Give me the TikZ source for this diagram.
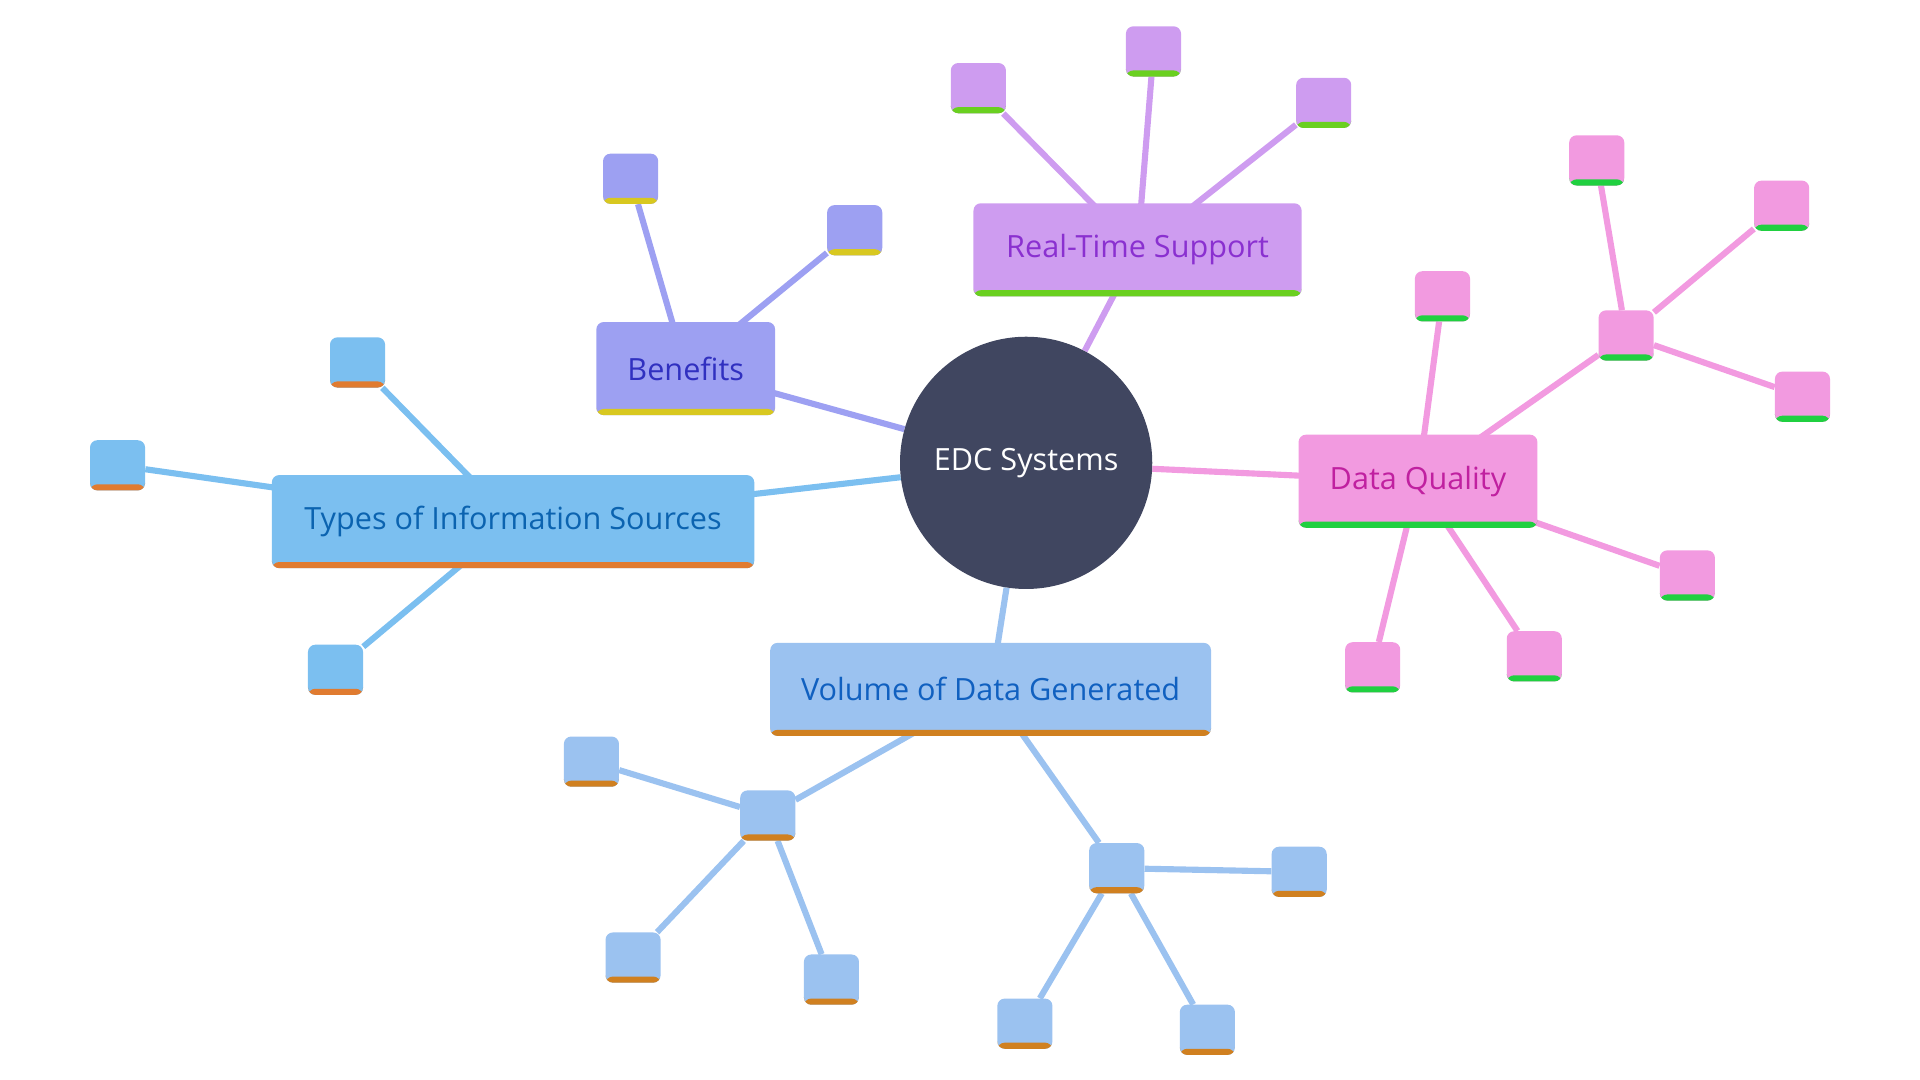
\documentclass[tikz,border=0pt]{standalone}
\usepackage{fontspec}
\setmainfont{Open Sans}
\usetikzlibrary{backgrounds}
\definecolor{hub}{HTML}{404660}
\definecolor{tyF}{HTML}{7BBFF0}\definecolor{tyT}{HTML}{0B63B0}\definecolor{tyB}{HTML}{E07B30}
\definecolor{beF}{HTML}{9DA0F2}\definecolor{beT}{HTML}{3030C0}\definecolor{beB}{HTML}{D8C820}
\definecolor{rtF}{HTML}{CE9CF0}\definecolor{rtT}{HTML}{8A30D0}\definecolor{rtB}{HTML}{6AD020}
\definecolor{dqF}{HTML}{F29AE0}\definecolor{dqT}{HTML}{C020A0}\definecolor{dqB}{HTML}{20D040}
\definecolor{voF}{HTML}{9BC2F0}\definecolor{voT}{HTML}{1060C0}\definecolor{voB}{HTML}{D08020}
\tikzset{
  box/.style 2 args={rectangle, rounded corners=6pt, fill=#1, inner sep=0pt,
    path picture={\fill[#2] (path picture bounding box.south west) rectangle ([yshift=5pt]path picture bounding box.south east);}},
  topic/.style={minimum height=76pt, font=\fontsize{25}{25}\selectfont},
  leaf/.style={minimum width=45pt, minimum height=41pt},
  link/.style={line width=5pt, draw=#1},
}
\begin{document}
\begin{tikzpicture}[x=1pt,y=-1pt]
\useasboundingbox (0,0) rectangle (1568,882);

\node [circle, fill=hub, minimum size=206pt, text=white, font=\fontsize{25}{25}\selectfont] (EDC) at (838,378) {EDC Systems};

% main topics
\node [box={tyF}{tyB}, topic, minimum width=394pt, text=tyT] (TY) at (419,426) {Types of Information Sources};
\node [box={beF}{beB}, topic, minimum width=146pt, text=beT] (BE) at (560,301) {Benefits};
\node [box={rtF}{rtB}, topic, minimum width=268pt, text=rtT] (RT) at (929,204) {Real-Time Support};
\node [box={dqF}{dqB}, topic, minimum width=195pt, text=dqT] (DQ) at (1158,393) {Data Quality};
\node [box={voF}{voB}, topic, minimum width=360pt, text=voT] (VO) at (809,563) {Volume of Data Generated};

% leaves
\node [box={tyF}{tyB}, leaf] (TY1) at (96,380) {};
\node [box={tyF}{tyB}, leaf] (TY2) at (292,296) {};
\node [box={tyF}{tyB}, leaf] (TY3) at (274,547) {};

\node [box={beF}{beB}, leaf] (BE1) at (515,146) {};
\node [box={beF}{beB}, leaf] (BE2) at (698,188) {};

\node [box={rtF}{rtB}, leaf] (RT1) at (799,72) {};
\node [box={rtF}{rtB}, leaf] (RT2) at (942,42) {};
\node [box={rtF}{rtB}, leaf] (RT3) at (1081,84) {};

\node [box={dqF}{dqB}, leaf] (DQ1) at (1178,242) {};
\node [box={dqF}{dqB}, leaf] (DQ2) at (1121,545) {};
\node [box={dqF}{dqB}, leaf] (DQ3) at (1253,536) {};
\node [box={dqF}{dqB}, leaf] (DQ4) at (1378,470) {};
\node [box={dqF}{dqB}, leaf] (DQ5) at (1328,274) {};
\node [box={dqF}{dqB}, leaf] (DQ51) at (1304,131) {};
\node [box={dqF}{dqB}, leaf] (DQ52) at (1455,168) {};
\node [box={dqF}{dqB}, leaf] (DQ53) at (1472,324) {};

\node [box={voF}{voB}, leaf] (VO1) at (627,666) {};
\node [box={voF}{voB}, leaf] (VO11) at (483,622) {};
\node [box={voF}{voB}, leaf] (VO12) at (517,782) {};
\node [box={voF}{voB}, leaf] (VO13) at (679,800) {};
\node [box={voF}{voB}, leaf] (VO2) at (912,709) {};
\node [box={voF}{voB}, leaf] (VO21) at (1061,712) {};
\node [box={voF}{voB}, leaf] (VO22) at (837,836) {};
\node [box={voF}{voB}, leaf] (VO23) at (986,841) {};

\begin{scope}[on background layer]
\draw [link=tyF] (EDC) -- (TY.center) (TY.center) -- (TY1) (TY.center) -- (TY2) (TY.center) -- (TY3);
\draw [link=beF] (EDC) -- (BE.center) (BE.center) -- (BE1) (BE.center) -- (BE2);
\draw [link=rtF] (EDC) -- (RT.center) (RT.center) -- (RT1) (RT.center) -- (RT2) (RT.center) -- (RT3);
\draw [link=dqF] (EDC) -- (DQ.center) (DQ.center) -- (DQ1) (DQ.center) -- (DQ2) (DQ.center) -- (DQ3) (DQ.center) -- (DQ4) (DQ.center) -- (DQ5);
\draw [link=dqF] (DQ5) -- (DQ51) (DQ5) -- (DQ52) (DQ5) -- (DQ53);
\draw [link=voF] (EDC) -- (VO.center) (VO.center) -- (VO1) (VO.center) -- (VO2);
\draw [link=voF] (VO1) -- (VO11) (VO1) -- (VO12) (VO1) -- (VO13);
\draw [link=voF] (VO2) -- (VO21) (VO2) -- (VO22) (VO2) -- (VO23);
\end{scope}
\end{tikzpicture}
\end{document}
